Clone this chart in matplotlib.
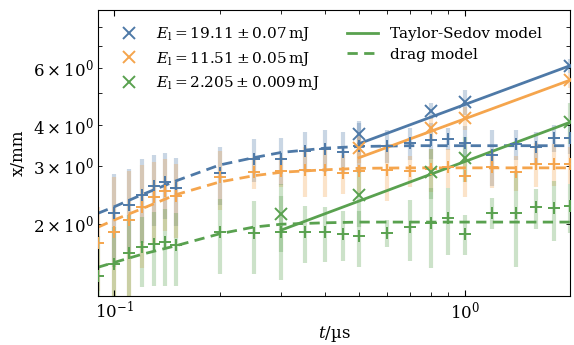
"""
Expansion of the laser-induced shock front: x(t) for three pulse energies,
with Taylor-Sedov (solid) and drag model (dashed) fits.

Run:
    python plot.py
"""
import numpy as np
import matplotlib
matplotlib.use("Agg")
import matplotlib.pyplot as plt
from matplotlib.lines import Line2D

plt.rcParams["font.family"] = "DejaVu Serif"
plt.rcParams["mathtext.fontset"] = "dejavuserif"

nan = np.nan

# measurement times (µs)
t = [0.09, 0.1, 0.11, 0.12, 0.13, 0.14, 0.15, 0.2, 0.25, 0.3, 0.35, 0.4,
     0.45, 0.5, 0.6, 0.7, 0.8, 0.9, 1.0, 1.2, 1.4, 1.6, 1.8, 2.0]

# "+" points (mm) and errors
x_blue = [nan, 2.15, 2.28, 2.45, 2.60, 2.67, 2.57, 2.86, 3.15, 3.14, 3.34, 3.37,
          3.32, 3.45, 3.46, 3.53, 3.61, 3.63, 3.53, 3.23, 3.49, 3.44, 3.66, 3.66]
e_blue = [nan, 0.68, 0.66, 0.71, 0.63, 0.61, 0.61, 0.58, 0.48, 0.51, 0.47, 0.49,
          0.49, 0.60, 0.40, 0.40, 0.45, 0.28, 0.45, 0.63, 0.37, 0.37, 0.34, 0.40]
x_orange = [1.74, 1.88, 2.05, 2.24, 2.41, 2.52, 2.43, 2.77, 2.87, 2.89, 2.92, 2.92,
            2.85, 2.90, 2.92, 2.90, 2.94, 2.97, 2.80, 2.97, 2.87, 3.05, 3.05, 3.04]
e_orange = [0.50, 0.90, 0.85, 0.78, 0.68, 0.62, 0.62, 0.57, 0.32, 0.30, 0.51, 0.51,
            0.38, 0.45, 0.57, 0.32, 0.45, 0.40, 0.39, 0.40, 0.35, 0.47, 0.45, 0.40]
x_green = [1.38, 1.50, 1.62, 1.69, 1.73, 1.75, 1.72, 1.89, 1.87, 1.88, 1.89, 1.88,
           1.86, 1.83, 1.87, 1.95, 2.01, 2.08, 1.86, 2.16, 2.16, 2.24, 2.23, 2.26]
e_green = [0.45, 0.45, 0.50, 0.41, 0.44, 0.46, 0.43, 0.49, 0.47, 0.54, 0.38, 0.36,
           0.32, 0.36, 0.18, 0.41, 0.55, 0.48, 0.26, 0.23, 0.69, 0.31, 0.46, 0.39]

# "x" points (Taylor-Sedov regime)
t_ts = [0.5, 0.8, 1.0, 2.0]
t_ts_green = [0.3, 0.5, 0.8, 1.0, 2.0]
ts_blue = [3.76, 4.42, 4.71, 6.08]
ts_e_blue = [0.37, 0.24, 0.40, 0.30]
ts_orange = [3.41, 3.93, 4.21, 5.49]
ts_e_orange = [0.35, 0.30, 0.35, 0.30]
ts_green = [2.14, 2.45, 2.87, 3.18, 4.08]
ts_e_green = [0.50, 0.50, 0.50, 0.50, 0.58]

# Taylor-Sedov fit lines (end points, straight in log-log)
fit_t_blue = [0.5, 2.0]
fit_blue = [3.51, 6.08]
fit_t_orange = [0.5, 2.0]
fit_orange = [3.18, 5.49]
fit_t_green = [0.3, 2.0]
fit_green = [1.91, 4.08]

# drag model curves
t_drag = [0.09, 0.1, 0.12, 0.15, 0.2, 0.25, 0.3, 0.4, 0.5, 0.7, 1.0, 2.0]
drag_blue = [2.15, 2.25, 2.45, 2.70, 3.02, 3.18, 3.30, 3.40, 3.44, 3.46, 3.46, 3.46]
drag_orange = [1.95, 2.05, 2.22, 2.45, 2.68, 2.80, 2.87, 2.92, 2.95, 2.96, 2.96, 2.96]
drag_green = [1.47, 1.52, 1.61, 1.71, 1.86, 1.95, 1.99, 2.01, 2.02, 2.02, 2.02, 2.02]

labels = [r"$E_\mathrm{l} = 19.11 \pm 0.07\,\mathrm{mJ}$",
          r"$E_\mathrm{l} = 11.51 \pm 0.05\,\mathrm{mJ}$",
          r"$E_\mathrm{l} = 2.205 \pm 0.009\,\mathrm{mJ}$"]

BLUE, ORANGE, GREEN = "#4E79A7", "#F5A54D", "#59A14F"
DASH = (3.7, 2.3)

series = [
    (BLUE, x_blue, e_blue, t_ts, ts_blue, ts_e_blue, fit_t_blue, fit_blue, drag_blue),
    (ORANGE, x_orange, e_orange, t_ts, ts_orange, ts_e_orange, fit_t_orange, fit_orange, drag_orange),
    (GREEN, x_green, e_green, t_ts_green, ts_green, ts_e_green, fit_t_green, fit_green, drag_green),
]


def main():
    fig = plt.figure(figsize=(5.74, 3.45), dpi=100)
    ax = fig.add_axes([0.171, 0.142, 0.822, 0.829])

    handles = []
    for color, xs, es, tts, xts, ets, ft, fx, dx in series:
        ax.errorbar(t, xs, yerr=es, fmt="none", ecolor=color, elinewidth=3.0,
                    alpha=0.3, zorder=1)
        ax.errorbar(tts, xts, yerr=ets, fmt="none", ecolor=color, elinewidth=3.0,
                    alpha=0.3, zorder=1)
        ax.plot(t, xs, ls="none", marker="+", ms=8.5, mew=1.4, color=color, zorder=3)
        ax.plot(tts, xts, ls="none", marker="x", ms=8, mew=1.4, color=color, zorder=3)
        ax.plot(ft, fx, color=color, lw=2.0, zorder=2)
        ax.plot(t_drag, dx, color=color, lw=2.0, ls="--", dashes=DASH, zorder=2)
        handles.append(Line2D([], [], ls="none", marker="x", ms=8, mew=1.4, color=color))

    handles.append(Line2D([], [], color=GREEN, lw=2.0))
    handles.append(Line2D([], [], color=GREEN, lw=2.0, ls="--", dashes=DASH))
    ax.legend(handles, labels + ["Taylor-Sedov model", "drag model"],
              ncol=2, frameon=False, loc="upper left", fontsize=11,
              handlelength=2.0, columnspacing=1.8, labelspacing=0.42,
              borderaxespad=0.6)

    ax.set_xscale("log")
    ax.set_yscale("log")
    ax.set_xlim(0.09, 2.0)
    ax.set_ylim(1.2, 9.0)
    ax.set_xlabel(r"$t$/µs", fontsize=12, labelpad=1)
    ax.set_ylabel("x/mm", fontsize=12)
    ax.tick_params(which="both", direction="in", top=True, right=True, labelsize=12)
    ax.tick_params(which="major", length=4)
    ax.tick_params(which="minor", length=3)

    fig.savefig("out.png", dpi=100)
    plt.close(fig)


if __name__ == "__main__":
    main()
